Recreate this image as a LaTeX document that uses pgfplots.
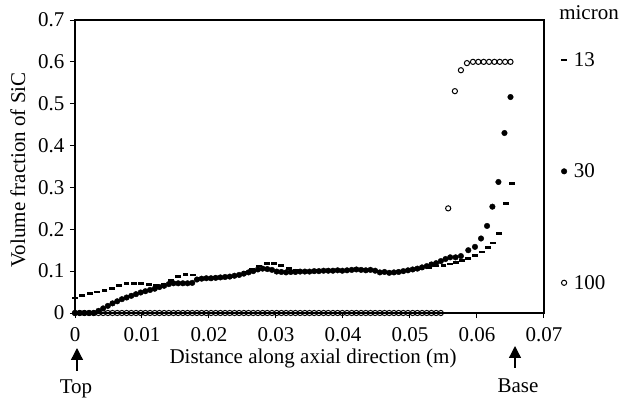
\documentclass[border=0pt]{standalone}
\usepackage{fontspec}
\setmainfont{Liberation Serif}
\usepackage{pgfplots}
\pgfplotsset{compat=1.18}
\usepackage{pgfplotstable}
\usetikzlibrary{arrows.meta}

% 13 micron
\pgfplotstableread{
x a
0.0000 0.036
0.0011 0.042
0.0022 0.047
0.0033 0.050
0.0044 0.054
0.0055 0.059
0.0066 0.066
0.0077 0.070
0.0088 0.070
0.0099 0.070
0.0110 0.068
0.0121 0.066
0.0132 0.069
0.0143 0.078
0.0154 0.088
0.0165 0.092
0.0176 0.091
0.0187 0.082
0.0198 0.082
0.0209 0.084
0.0220 0.085
0.0231 0.087
0.0242 0.090
0.0253 0.096
0.0264 0.104
0.0275 0.112
0.0286 0.119
0.0297 0.119
0.0308 0.113
0.0319 0.106
0.0330 0.101
0.0341 0.100
0.0352 0.100
0.0363 0.101
0.0374 0.101
0.0385 0.102
0.0396 0.102
0.0407 0.103
0.0418 0.104
0.0429 0.104
0.0440 0.102
0.0451 0.099
0.0462 0.097
0.0473 0.097
0.0484 0.099
0.0495 0.101
0.0506 0.103
0.0517 0.106
0.0528 0.109
0.0539 0.112
0.0550 0.114
0.0560 0.117
0.0569 0.120
0.0578 0.125
0.0587 0.130
0.0597 0.138
0.0607 0.146
0.0616 0.156
0.0624 0.167
0.0633 0.190
0.0643 0.262
0.0652 0.310
}\tabA

% 30 micron
\pgfplotstableread{
x b
0.0000 0.000
0.0007 0.000
0.0014 0.000
0.0021 0.000
0.0028 0.000
0.0035 0.005
0.0042 0.011
0.0049 0.017
0.0056 0.023
0.0063 0.028
0.0070 0.033
0.0077 0.037
0.0084 0.041
0.0091 0.045
0.0098 0.049
0.0105 0.052
0.0112 0.055
0.0119 0.058
0.0126 0.062
0.0133 0.065
0.0140 0.069
0.0147 0.071
0.0154 0.071
0.0161 0.071
0.0168 0.071
0.0175 0.072
0.0182 0.080
0.0189 0.082
0.0196 0.083
0.0203 0.083
0.0210 0.084
0.0217 0.085
0.0224 0.086
0.0231 0.087
0.0238 0.089
0.0245 0.091
0.0252 0.094
0.0259 0.097
0.0266 0.100
0.0273 0.104
0.0280 0.106
0.0287 0.105
0.0294 0.103
0.0301 0.099
0.0308 0.098
0.0315 0.097
0.0322 0.098
0.0329 0.098
0.0336 0.099
0.0343 0.099
0.0350 0.099
0.0357 0.100
0.0364 0.100
0.0371 0.101
0.0378 0.101
0.0385 0.101
0.0392 0.102
0.0399 0.101
0.0406 0.102
0.0413 0.103
0.0420 0.104
0.0427 0.103
0.0434 0.102
0.0441 0.103
0.0448 0.101
0.0455 0.097
0.0462 0.098
0.0469 0.096
0.0476 0.097
0.0483 0.098
0.0490 0.100
0.0497 0.102
0.0504 0.104
0.0511 0.106
0.0518 0.109
0.0525 0.112
0.0532 0.116
0.0539 0.119
0.0546 0.124
0.0553 0.129
0.0560 0.133
0.0568 0.133
0.0576 0.136
0.0587 0.150
0.0597 0.158
0.0606 0.178
0.0615 0.208
0.0623 0.254
0.0632 0.313
0.0641 0.430
0.0650 0.516
}\tabB

% 100 micron
\pgfplotstableread{
x c
0.0000 0
0.0007 0
0.0014 0
0.0021 0
0.0028 0
0.0035 0
0.0042 0
0.0049 0
0.0056 0
0.0063 0
0.0070 0
0.0077 0
0.0084 0
0.0091 0
0.0098 0
0.0105 0
0.0112 0
0.0119 0
0.0126 0
0.0133 0
0.0140 0
0.0147 0
0.0154 0
0.0161 0
0.0168 0
0.0175 0
0.0182 0
0.0189 0
0.0196 0
0.0203 0
0.0210 0
0.0217 0
0.0224 0
0.0231 0
0.0238 0
0.0245 0
0.0252 0
0.0259 0
0.0266 0
0.0273 0
0.0280 0
0.0287 0
0.0294 0
0.0301 0
0.0308 0
0.0315 0
0.0322 0
0.0329 0
0.0336 0
0.0343 0
0.0350 0
0.0357 0
0.0364 0
0.0371 0
0.0378 0
0.0385 0
0.0392 0
0.0399 0
0.0406 0
0.0413 0
0.0420 0
0.0427 0
0.0434 0
0.0441 0
0.0448 0
0.0455 0
0.0462 0
0.0469 0
0.0476 0
0.0483 0
0.0490 0
0.0497 0
0.0504 0
0.0511 0
0.0518 0
0.0525 0
0.0532 0
0.0539 0
0.0546 0
0.0557 0.25
0.0567 0.53
0.0576 0.58
0.0585 0.597
0.0594 0.60
0.0602 0.60
0.0610 0.60
0.0618 0.60
0.0626 0.60
0.0634 0.60
0.0642 0.60
0.0650 0.60
}\tabC

\newcommand{\fs}{\fontsize{21bp}{25bp}\selectfont}

\begin{document}
\begin{tikzpicture}[x=1bp,y=1bp]
\path[use as bounding box] (0bp,0bp) rectangle (620bp,404bp);
\begin{axis}[
  at={(75bp,91bp)}, anchor=south west,
  scale only axis, width=469bp, height=293bp,
  xmin=0, xmax=0.07, ymin=0, ymax=0.7,
  scaled x ticks=false, scaled y ticks=false,
  axis line style={line width=1.1bp},
  xtick={0,0.01,0.02,0.03,0.04,0.05,0.06,0.07},
  xticklabels={0,0.01,0.02,0.03,0.04,0.05,0.06,0.07},
  ytick={0,0.1,0.2,0.3,0.4,0.5,0.6,0.7},
  yticklabels={0,0.1,0.2,0.3,0.4,0.5,0.6,0.7},
  xtick pos=bottom, ytick pos=left,
  tick align=outside, major tick length=5bp,
  tick style={line width=1bp, black},
  ticklabel style={font=\fs},
  xticklabel style={yshift=-6bp},
  yticklabel style={xshift=-2bp},
  clip=false,
  legend style={draw=none, fill=none, at={(1,1)}, anchor=north west,
    xshift=17bp, yshift=-31bp, inner sep=0pt, row sep=94bp,
    font=\fs, nodes={inner sep=1bp},
    /tikz/every odd column/.append style={column sep=6bp}},
  legend cell align=left,
  legend image code/.code={\draw[#1] plot coordinates {(5bp,0bp)};},
]
\addplot[only marks, mark=-, mark size=2.9bp, mark options={line width=2.7bp, black}]
  table[x=x, y=a] {\tabA};
\addlegendentry{13}
\addplot[only marks, mark=*, mark size=2.8bp, mark options={fill=black, draw=black}]
  table[x=x, y=b] {\tabB};
\addlegendentry{30}
\addplot[only marks, mark=o, mark size=2.6bp, mark options={line width=1bp, black}]
  table[x=x, y=c] {\tabC};
\addlegendentry{100}
\end{axis}
\node[font=\fs] at (589bp,391bp) {micron};
\node[font=\fs, rotate=90] at (18bp,234bp) {Volume fraction of SiC};
\node[font=\fs] at (313bp,46bp) {Distance along axial direction (m)};
\draw[line width=1.3bp, -{Triangle[length=12bp,width=12bp]}] (77bp,33bp) -- (77bp,56bp);
\node[font=\fs] at (76bp,15bp) {Top};
\draw[line width=1.3bp, -{Triangle[length=12bp,width=12bp]}] (515bp,36bp) -- (515bp,58bp);
\node[font=\fs] at (518bp,18bp) {Base};
\end{tikzpicture}
\end{document}
